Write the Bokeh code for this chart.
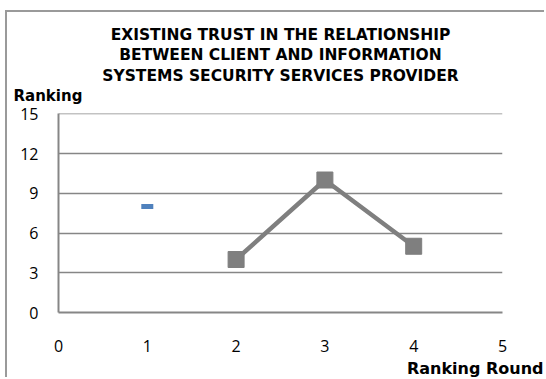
from bokeh.plotting import figure
from bokeh.models import Title, FixedTicker, Range1d
from bokeh.embed import file_html
from bokeh.resources import INLINE

# data
title_lines = ["EXISTING TRUST IN THE RELATIONSHIP",
               "BETWEEN CLIENT AND INFORMATION",
               "SYSTEMS SECURITY SERVICES PROVIDER"]
y_label = "Ranking"
x_label = "Ranking Round"
x_ticks = [0, 1, 2, 3, 4, 5]
y_ticks = [0, 3, 6, 9, 12, 15]
blue_x = [1]
blue_y = [8]
gray_x = [2, 3, 4]
gray_y = [4, 10, 5]

GRAY = "#7f7f7f"
AX = "#868686"
W, H = 539, 367

p = figure(width=W, height=H, output_backend="svg", toolbar_location=None,
           x_range=Range1d(0, 5), y_range=Range1d(0, 15.02),
           min_border_left=51, min_border_right=44, min_border_top=101, min_border_bottom=66)
p.styles = {"margin-left": "5px", "margin-top": "10px",
            "border-left": "2px solid #9a9a9a", "border-top": "2px solid #9a9a9a"}
p.outline_line_color = None
p.background_fill_color = "white"
p.border_fill_color = "white"

for ax, ticks in ((p.xaxis[0], x_ticks), (p.yaxis[0], y_ticks)):
    ax.ticker = FixedTicker(ticks=ticks)
    ax.major_tick_out = 0
    ax.major_tick_in = 0
    ax.minor_tick_out = 0
    ax.minor_tick_in = 0
    ax.axis_line_color = AX
    ax.axis_line_width = 2
    ax.major_label_text_font = "Open Sans"
    ax.major_label_text_font_size = "16px"
    ax.major_label_text_color = "black"
p.yaxis[0].major_label_standoff = 20
p.xaxis[0].major_label_standoff = 27

p.xgrid.grid_line_color = None
p.ygrid.ticker = FixedTicker(ticks=y_ticks)
p.ygrid.grid_line_color = AX
p.ygrid.grid_line_width = 1.3

p.line(gray_x, gray_y, line_color=GRAY, line_width=4.5)
p.scatter(gray_x, gray_y, marker="square", size=16, fill_color=GRAY, line_color=GRAY)
p.rect(blue_x, blue_y, width=12, height=5, width_units="screen", height_units="screen",
       fill_color="#4f81bd", line_color=None)


def mk(text, size, align="center", offset=0, standoff=2):
    return Title(text=text, align=align, offset=offset, standoff=standoff,
                 text_font="DejaVu Sans", text_font_style="bold", text_font_size=size,
                 text_color="black")


p.add_layout(mk(y_label, "15px", align="left", offset=-45, standoff=18), "above")
for line, so in zip(reversed(title_lines), [-18, 19, -18]):
    p.add_layout(mk(line, "15.5px", standoff=so), "above")
p.add_layout(mk(x_label, "16px", align="right", offset=-41, standoff=4), "below")

open("out.html", "w").write(file_html(p, INLINE))
